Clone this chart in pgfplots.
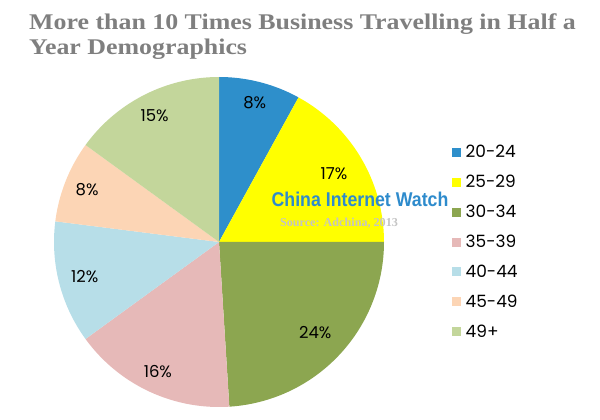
\documentclass[border=0pt]{standalone}
\usepackage{pgfplots}
\pgfplotsset{compat=1.18}
\usepackage{fontspec}
\setmainfont{Liberation Serif}
\setsansfont{Liberation Sans}
\newfontfamily\lblfont{Poppins}
\definecolor{c1}{HTML}{2E8FCB}
\definecolor{c2}{HTML}{FFFF00}
\definecolor{c3}{HTML}{8CA650}
\definecolor{c4}{HTML}{E6B9B8}
\definecolor{c5}{HTML}{B7DEE8}
\definecolor{c6}{HTML}{FCD5B5}
\definecolor{c7}{HTML}{C3D69B}
\definecolor{titlegray}{HTML}{7F7F7F}
\definecolor{cwblue}{HTML}{2E8BCC}
\definecolor{srcgray}{HTML}{C4C4C4}
\xdef\cum{0}
\newcommand\slice[4]{% value, color, legend, label radius
  \pgfmathsetmacro\sa{90-3.6*\cum}%
  \pgfmathsetmacro\ea{90-3.6*(\cum+#1)}%
  \pgfmathsetmacro\ma{(\sa+\ea)/2}%
  \pgfmathsetmacro\lx{#4*cos(\ma)}%
  \pgfmathsetmacro\ly{#4*sin(\ma)}%
  \edef\temp{\noexpand\addplot[fill=#2, draw=none, domain=\ea:\sa, samples=90] ({cos(x)},{sin(x)}) -- (axis cs:0,0) -- cycle;
    \noexpand\addlegendentry{#3}
    \noexpand\node[font=\noexpand\lblfont\noexpand\fontsize{16.5}{16.5}\noexpand\selectfont] at (axis cs:\lx,\ly) {#1\noexpand\%};}%
  \temp
  \pgfmathsetmacro\newcum{\cum+#1}%
  \xdef\cum{\newcum}%
}
\begin{document}
\begin{tikzpicture}
\path (0,0) rectangle (600bp,420bp);
\begin{axis}[at={(219bp,178bp)}, anchor=center, scale only axis,
  width=330bp, height=330bp, xmin=-1, xmax=1, ymin=-1, ymax=1, hide axis,
  legend image code/.code={\fill[#1] (0bp,-4.5bp) rectangle (9bp,4.5bp);},
  legend style={draw=none, fill=none, at={(1.197,0.5)}, anchor=west,
    font=\lblfont\fontsize{17}{17}\selectfont, row sep=12bp,
    /tikz/every even column/.append style={column sep=0bp},
    /tikz/every odd column/.append style={column sep=2.5bp}},
  legend cell align=left]
\slice{8}{c1}{20-24}{0.87}
\slice{17}{c2}{25-29}{0.81}
\slice{24}{c3}{30-34}{0.80}
\slice{16}{c4}{35-39}{0.87}
\slice{12}{c5}{40-44}{0.84}
\slice{8}{c6}{45-49}{0.86}
\slice{15}{c7}{49+}{0.86}
\end{axis}
\node[anchor=north west, align=left, text=titlegray, inner sep=0pt] at (29bp,408bp) {\scalebox{1.155}[1]{\bfseries\fontsize{22.5}{25}\selectfont\begin{tabular}{@{}l@{}}More than 10 Times Business Travelling in Half a\\Year Demographics\end{tabular}}};
\node[text=cwblue, inner sep=0pt] at (360bp,221bp) {\scalebox{0.89}[1]{\sffamily\bfseries\fontsize{20}{20}\selectfont China Internet Watch}};
\node[text=srcgray, inner sep=0pt, font=\bfseries\fontsize{12.2}{12}\selectfont] at (339bp,197bp) {Source: Adchina, 2013};
\end{tikzpicture}
\end{document}
